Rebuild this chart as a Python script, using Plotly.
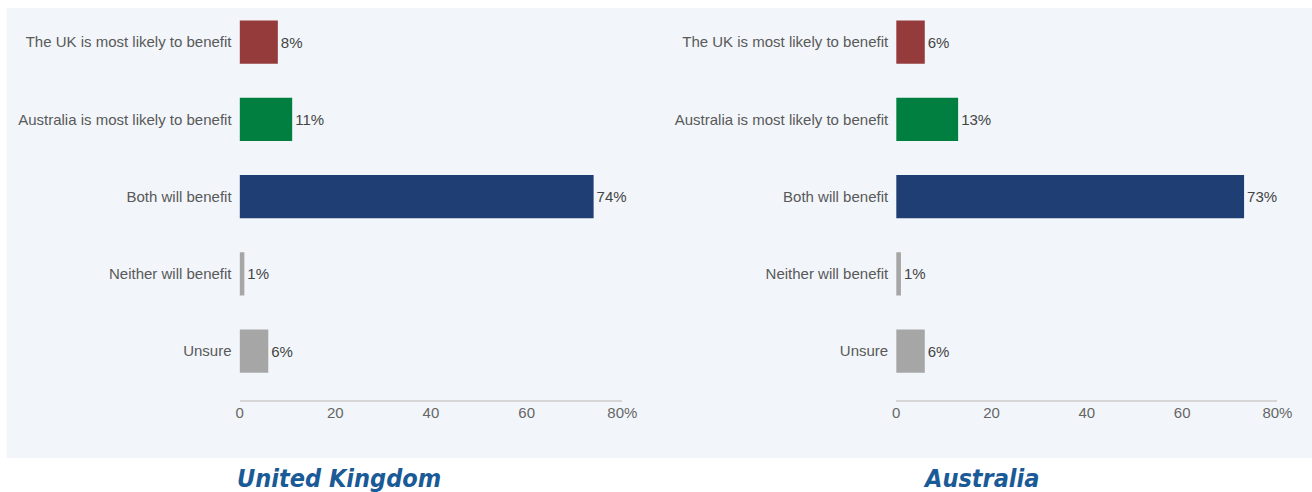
import plotly.graph_objects as go

categories = ["The UK is most likely to benefit", "Australia is most likely to benefit",
              "Both will benefit", "Neither will benefit", "Unsure"]
uk_values = [8, 11, 74, 1, 6]
au_values = [6, 13, 73, 1, 6]
bar_colors = ["#953b3b", "#007f40", "#1f3e73", "#a6a6a6", "#a6a6a6"]
panel_titles = ["United Kingdom", "Australia"]
tick_vals = [0, 20, 40, 60, 80]
tick_text = ["0", "20", "40", "60", "80%"]

W, H = 1330, 492
# horizontal layout coordinates (the rendering compresses x slightly)
def px(x): return min(1.0, max(0.0, (x - 4.3) / 0.9863 / W))
def py(y): return 1 - y / H

FONT = "Liberation Sans, Arial, sans-serif"
TITLE_FONT = "DejaVu Sans Condensed, Liberation Sans, Arial, sans-serif"

fig = go.Figure()
for i, vals in enumerate([uk_values, au_values]):
    sfx = "" if i == 0 else "2"
    fig.add_trace(go.Bar(
        x=vals, y=categories, orientation="h",
        marker=dict(color=bar_colors, line=dict(width=0)),
        width=0.56,
        text=[f"{v}%" for v in vals], textposition="outside",
        textfont=dict(family=FONT, size=15, color="#444444"),
        cliponaxis=False, hoverinfo="skip",
        xaxis="x" + sfx, yaxis="y" + sfx, showlegend=False,
    ))

ydom = [py(400), py(4)]
axis_common_x = dict(range=[0, 80], tickvals=tick_vals, ticktext=tick_text, showgrid=False,
                     zeroline=False, showline=True, linecolor="#d6d6d6", linewidth=1.5,
                     ticks="", ticklabelstandoff=-2,
                     tickfont=dict(family=FONT, size=15, color="#666666"),
                     fixedrange=True)
axis_common_y = dict(type="category", range=[4.634, -0.492], showgrid=False, zeroline=False,
                     showline=False, ticks="", ticklabelstandoff=7,
                     tickfont=dict(family=FONT, size=15, color="#595959"),
                     fixedrange=True)

fig.update_layout(
    width=W, height=H, autosize=False,
    margin=dict(l=0, r=0, t=0, b=0),
    paper_bgcolor="white", plot_bgcolor="rgba(0,0,0,0)",
    bargap=0.44,
    xaxis=dict(domain=[px(240), px(623)], anchor="y", **axis_common_x),
    yaxis=dict(domain=ydom, anchor="x", **axis_common_y),
    xaxis2=dict(domain=[px(897), px(1278.5)], anchor="y2", **axis_common_x),
    yaxis2=dict(domain=ydom, anchor="x2", **axis_common_y),
    shapes=[dict(type="rect", xref="paper", yref="paper", x0=px(7), x1=1,
                 y0=py(458), y1=py(8), fillcolor="#f2f6fa", line=dict(width=0), layer="below")],
    annotations=[
        dict(text=f"<b><i>{panel_titles[0]}</i></b>", xref="paper", yref="paper", x=px(235), y=py(495),
             xanchor="left", yanchor="bottom", showarrow=False,
             font=dict(family=TITLE_FONT, size=25, color="#1a5a96")),
        dict(text=f"<b><i>{panel_titles[1]}</i></b>", xref="paper", yref="paper", x=px(922), y=py(495),
             xanchor="left", yanchor="bottom", showarrow=False,
             font=dict(family=TITLE_FONT, size=25, color="#1a5a96")),
    ],
)

fig.write_html("out.html",
               config={"responsive": False, "displayModeBar": False},
               post_script="document.body.style.margin='0';document.body.style.overflow='hidden';")
